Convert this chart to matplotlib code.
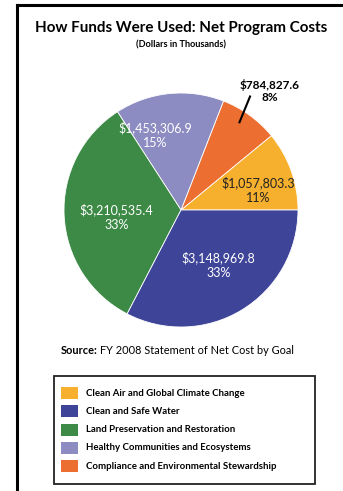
import numpy as np
import matplotlib.pyplot as plt
from matplotlib.lines import Line2D
from matplotlib.patches import Rectangle

plt.rcParams['font.family'] = ['Lato', 'DejaVu Sans']

# data (dollars in thousands), counter-clockwise from 3 o'clock
goals = ['Clean Air and Global Climate Change',
         'Compliance and Environmental Stewardship',
         'Healthy Communities and Ecosystems',
         'Land Preservation and Restoration',
         'Clean and Safe Water']
values = [1057803.3, 784827.6, 1453306.9, 3210535.4, 3148969.8]
value_labels = ['$1,057,803.3', '$784,827.6', '$1,453,306.9', '$3,210,535.4', '$3,148,969.8']
pct_labels = ['11%', '8%', '15%', '33%', '33%']
colors = ['#F6B02E', '#EC6E30', '#8C8CC2', '#3D8A47', '#3E4498']

legend_order = [0, 4, 3, 2, 1]

W, H = 343, 491
fig = plt.figure(figsize=(W / 100, H / 100), dpi=100)

# frame lines (top and left)
fig.add_artist(Line2D([17 / W, 1], [1 - 5 / H, 1 - 5 / H], color='black', lw=2.2))
fig.add_artist(Line2D([17 / W, 17 / W], [0, 1 - 5 / H], color='black', lw=2.2))

fig.text(181 / W, 1 - 28 / H, 'How Funds Were Used: Net Program Costs',
         ha='center', va='center', fontsize=10.9, fontweight='bold')
fig.text(181 / W, 1 - 45 / H, '(Dollars in Thousands)',
         ha='center', va='center', fontsize=6.6, fontweight='bold')

# pie
cx, cy, r = 181, 210, 117
ax = fig.add_axes([(cx - r) / W, 1 - (cy + r) / H, 2 * r / W, 2 * r / H])
wedges, _ = ax.pie(values, colors=colors, startangle=0, counterclock=True,
                   wedgeprops=dict(edgecolor='white', linewidth=0.6))
ax.set_xlim(-1, 1)
ax.set_ylim(-1, 1)
ax.set_aspect('equal')
ax.axis('off')

label_pos = [(0.66, 0.17), None, (-0.22, 0.64), (-0.55, -0.06), (0.32, -0.47)]
label_col = ['#222222', 'black', 'white', 'white', 'white']
for i, pos in enumerate(label_pos):
    if pos is None:
        continue
    ax.text(pos[0], pos[1], value_labels[i] + '\n' + pct_labels[i],
            ha='center', va='center', fontsize=9, color=label_col[i],
            linespacing=1.25)

# outside label for the small slice
ax.plot([0.59, 0.50], [0.97, 0.75], color='black', lw=1.5)
ax.text(0.76, 1.02, value_labels[1] + '\n' + pct_labels[1], ha='center', va='center',
        fontsize=8.5, fontweight='bold', linespacing=1.1)

# source line
t1 = fig.text(61 / W, 1 - 350 / H, 'Source:', ha='left', va='center',
              fontsize=7.9, fontweight='bold')
ax.annotate('FY 2008 Statement of Net Cost by Goal', xy=(1, 0.5), xycoords=t1,
            xytext=(1.5, 0), textcoords='offset points',
            ha='left', va='center', fontsize=7.9, annotation_clip=False)

# legend box
fig.add_artist(Rectangle((54 / W, 1 - 484 / H), (315 - 54) / W, (484 - 376) / H,
                         transform=fig.transFigure, facecolor='white',
                         edgecolor='#222222', lw=1.3))
for k, i in enumerate(legend_order):
    y = 393 + k * 18.3
    fig.add_artist(Rectangle((61 / W, 1 - (y + 6) / H), 17 / W, 12 / H,
                             transform=fig.transFigure, facecolor=colors[i], edgecolor='none'))
    fig.text(86 / W, 1 - y / H, goals[i], ha='left', va='center',
             fontsize=6.9, fontweight='bold')

fig.savefig('out.png', dpi=100)
